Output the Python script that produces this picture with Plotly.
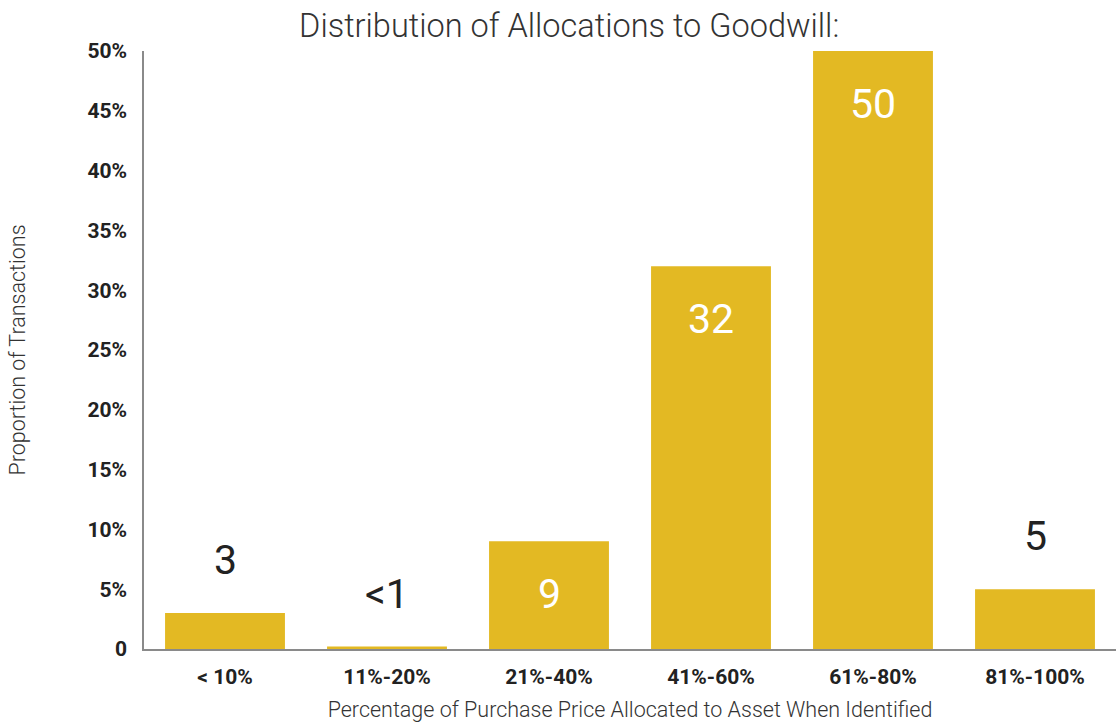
import plotly.graph_objects as go

# Share of transactions by goodwill allocation bucket (percent)
categories = ["< 10%", "11%-20%", "21%-40%", "41%-60%", "61%-80%", "81%-100%"]
shares = [3, 0.2, 9, 32, 50, 5]
y_tick_values = [0, 5, 10, 15, 20, 25, 30, 35, 40, 45, 50]
y_tick_labels = ["0", "5%", "10%", "15%", "20%", "25%", "30%", "35%", "40%", "45%", "50%"]

BAR_COLOR = "#E3B923"
TEXT_DARK = "#222222"
AXIS_GRAY = "#8a8a8a"
INSIDE_MIN = 9  # bars at least this tall carry their label inside

fig = go.Figure(
    go.Bar(
        x=categories,
        y=shares,
        marker=dict(color=BAR_COLOR, line=dict(width=0)),
        width=0.74,
        hoverinfo="skip",
    )
)

# Value labels: white inside tall bars, dark above short ones
for cat, v in zip(categories, shares):
    text = "<1" if v < 1 else f"{v:g}"
    inside = v >= INSIDE_MIN
    fig.add_annotation(
        x=cat,
        y=v,
        text=text.replace("<", "&lt;"),
        showarrow=False,
        yanchor="middle",
        yshift=-53 if inside else 53,
        font=dict(family="Roboto", size=41, weight=400,
                  color="#ffffff" if inside else TEXT_DARK),
    )

fig.update_layout(
    width=1116,
    height=726,
    margin=dict(l=144, r=0, t=51, b=77),
    paper_bgcolor="white",
    plot_bgcolor="white",
    showlegend=False,
    bargap=0.26,
    title=dict(
        text="Distribution of Allocations to Goodwill:",
        x=0.51,
        xanchor="center",
        y=0.965,
        yanchor="middle",
        font=dict(family="Roboto", size=32.5, weight=300, color="#333333"),
    ),
    xaxis=dict(
        showline=True,
        linecolor=AXIS_GRAY,
        linewidth=1.5,
        showgrid=False,
        ticks="",
        ticklabelstandoff=8,
        tickfont=dict(family="Roboto", size=21, weight="bold", color=TEXT_DARK),
        title=dict(
            text="Percentage of Purchase Price Allocated to Asset When Identified",
            font=dict(family="Roboto", size=21.5, weight=300, color="#333333"),
            standoff=14,
        ),
    ),
    yaxis=dict(
        range=[0, 50],
        showline=True,
        linecolor=AXIS_GRAY,
        linewidth=1.5,
        showgrid=False,
        zeroline=False,
        ticks="",
        tickmode="array",
        tickvals=y_tick_values,
        ticktext=y_tick_labels,
        ticklabelstandoff=11,
        tickfont=dict(family="Roboto", size=21, weight="bold", color=TEXT_DARK),
        title=dict(
            text="Proportion of Transactions",
            font=dict(family="Roboto", size=21.5, weight=300, color="#333333"),
            standoff=56,
        ),
    ),
)

fig.write_html("out.html")
